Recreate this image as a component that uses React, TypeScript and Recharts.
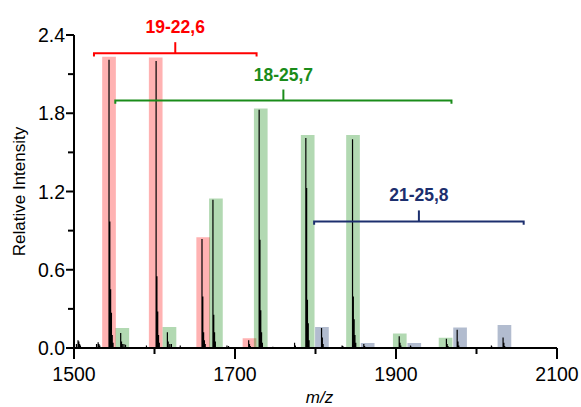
import React from 'react';
import { ComposedChart, Line, Area, XAxis, YAxis, LabelList, Label } from 'recharts';

// ---- spectrum (stick peaks) ----
const specMz = [
  1503, 1505, 1506, 1507, 1508,
  1528, 1530, 1531, 1532,
  1543.5, 1544.5, 1545.5, 1546.5, 1547.5, 1548.5,
  1558, 1559, 1560, 1562, 1564,
  1590,
  1602, 1603, 1604, 1605, 1606,
  1616, 1617, 1619, 1621,
  1632,
  1659, 1660, 1661, 1662, 1663,
  1672.6, 1673.6, 1674.6, 1675.6,
  1690, 1692,
  1717, 1718, 1719,
  1730, 1731, 1732, 1733, 1734,
  1747,
  1774, 1775,
  1788, 1789, 1790, 1791, 1792,
  1807.5, 1808.5, 1809.5,
  1833, 1834,
  1846, 1847, 1848, 1849, 1850,
  1860, 1861,
  1904, 1905, 1906,
  1918, 1919,
  1962.6, 1963.6, 1964.6,
  1976, 1977, 1978,
  2018.5, 2019.5,
  2033, 2034, 2035,
];
const specInt = [
  0.03, 0.06, 0.05, 0.03, 0.02,
  0.03, 0.045, 0.03, 0.02,
  2.21, 0.97, 0.45, 0.27, 0.1, 0.04,
  0.115, 0.05, 0.03, 0.03, 0.025,
  0.02,
  2.2, 0.55, 0.28, 0.1, 0.04,
  0.12, 0.05, 0.03, 0.03,
  0.02,
  0.835, 0.395, 0.12, 0.06, 0.03,
  1.136, 0.255, 0.12, 0.05,
  0.02, 0.015,
  0.06, 0.03, 0.015,
  1.826, 0.83, 0.29, 0.12, 0.04,
  0.01,
  0.04, 0.02,
  1.61, 1.226, 0.37, 0.19, 0.06,
  0.153, 0.08, 0.03,
  0.02, 0.015,
  1.6, 0.395, 0.22, 0.1, 0.04,
  0.03, 0.015,
  0.09, 0.04, 0.02,
  0.02, 0.01,
  0.07, 0.03, 0.015,
  0.14, 0.05, 0.02,
  0.02, 0.01,
  0.08, 0.04, 0.015,
];

// ---- highlighted series (shaded bars) ----
const redMz = [1543.5, 1601.5, 1660.5, 1718];
const redInt = [2.234, 2.227, 0.85, 0.074];
const greenMz = [1560, 1618.6, 1676.3, 1732, 1790.3, 1846.6, 1904.7, 1961.6];
const greenInt = [0.153, 0.161, 1.147, 1.836, 1.634, 1.634, 0.112, 0.079];
const blueMz = [1808, 1864.8, 1922.7, 1979.6, 2034.7];
const blueInt = [0.161, 0.038, 0.038, 0.158, 0.176];

// ---- brackets ----
const bracketLabels = ['19-22,6', '18-25,7', '21-25,8'];
const bracketStart = [1524.8, 1551.3, 1798.3];
const bracketEnd = [1726.8, 1968.9, 2058.6];
const bracketLevel = [2.26, 1.897, 0.97];

// ---- ticks ----
const xTicks = [1500, 1600, 1700, 1800, 1900, 2000, 2100];
const xTickLabels = [1500, 1700, 1900, 2100];
const yTicks = [0, 0.3, 0.6, 0.9, 1.2, 1.5, 1.8, 2.1, 2.4];
const yTickLabels = [0, 0.6, 1.2, 1.8, 2.4];

// ---- styles ----
const FONT = '"Liberation Sans", Arial, sans-serif';
const BAR_HALF = 8.5; // half bar width in m/z units
const HOOK = 0.025;
const TICK_H = 0.085;
const seriesFill = ['#ff0000', '#008000', '#002060'];
const bracketColor = ['#ff0000', '#1a8c1a', '#1c2f6e'];

const spectrumRows = specMz.flatMap((m, i) => [
  { x: m, y: 0 },
  { x: m, y: specInt[i] },
  { x: m, y: 0 },
]);

const rectRows = (mz: number[], h: number[]) =>
  mz.flatMap((m, i) => [
    { x: m - BAR_HALF, y: 0 },
    { x: m - BAR_HALF, y: h[i] },
    { x: m + BAR_HALF, y: h[i] },
    { x: m + BAR_HALF, y: 0 },
  ]);

const seriesRects = [rectRows(redMz, redInt), rectRows(greenMz, greenInt), rectRows(blueMz, blueInt)];

const bracketRows = bracketLabels.map((_, i) => [
  { x: bracketStart[i], y: bracketLevel[i] - HOOK },
  { x: bracketStart[i], y: bracketLevel[i] },
  { x: bracketEnd[i], y: bracketLevel[i] },
  { x: bracketEnd[i], y: bracketLevel[i] - HOOK },
]);
const bracketTickRows = bracketLabels.map((lab, i) => {
  const c = (bracketStart[i] + bracketEnd[i]) / 2;
  return [
    { x: c, y: bracketLevel[i] },
    { x: c, y: bracketLevel[i] + TICK_H, label: lab },
  ];
});

const XTick = (props: any) => {
  const { x, y, payload } = props;
  const major = xTickLabels.includes(payload.value);
  return (
    <g>
      <line x1={x} x2={x} y1={y} y2={y + (major ? 11 : 6)} stroke="#000" strokeWidth={2} />
      {major && (
        <text x={x} y={y + 33} textAnchor="middle" fontSize={19.5} fontFamily={FONT} fill="#000">
          {payload.value}
        </text>
      )}
    </g>
  );
};

const YTick = (props: any) => {
  const { x, y, payload } = props;
  const major = yTickLabels.some((v) => Math.abs(v - payload.value) < 1e-6);
  return (
    <g>
      <line x1={x} x2={x - (major ? 8 : 6)} y1={y} y2={y} stroke="#000" strokeWidth={2} />
      {major && (
        <text x={x - 9} y={y + 7} textAnchor="end" fontSize={19.5} fontFamily={FONT} fill="#000">
          {Number(payload.value).toFixed(1)}
        </text>
      )}
    </g>
  );
};

export default function App() {
  return (
    <div style={{ position: 'absolute', left: 0, top: 0, background: '#fff' }}>
      <ComposedChart width={581} height={407} margin={{ top: 35, right: 24, bottom: 0, left: 0 }}>
        <XAxis
          dataKey="x"
          type="number"
          domain={[1500, 2100]}
          ticks={xTicks}
          interval={0}
          allowDataOverflow
          height={59}
          tickSize={0}
          tickMargin={0}
          tickLine={false}
          tick={<XTick />}
          axisLine={{ stroke: '#000', strokeWidth: 2 }}
        >
          <Label value="m/z" position="insideBottom" offset={4} dx={4} fontStyle="italic" fontSize={17} fontFamily={FONT} fill="#000" />
        </XAxis>
        <YAxis
          type="number"
          domain={[0, 2.4]}
          ticks={yTicks}
          interval={0}
          allowDataOverflow
          width={74}
          tickSize={0}
          tickMargin={0}
          tickLine={false}
          tick={<YTick />}
          axisLine={{ stroke: '#000', strokeWidth: 2 }}
        >
          <Label
            value="Relative Intensity"
            angle={-90}
            position="insideLeft"
            offset={19}
            style={{ textAnchor: 'middle' }}
            fontSize={17}
            fontFamily={FONT}
            fill="#000"
          />
        </YAxis>

        <Line
          data={spectrumRows}
          dataKey="y"
          type="linear"
          stroke="#000"
          strokeWidth={1.2}
          dot={false}
          activeDot={false}
          isAnimationActive={false}
        />

        {seriesRects.map((rows, i) => (
          <Area
            key={'a' + i}
            data={rows}
            dataKey="y"
            type="linear"
            stroke="none"
            fill={seriesFill[i]}
            fillOpacity={0.3}
            dot={false}
            activeDot={false}
            isAnimationActive={false}
          />
        ))}

        {bracketRows.map((rows, i) => (
          <Line
            key={'b' + i}
            data={rows}
            dataKey="y"
            type="linear"
            stroke={bracketColor[i]}
            strokeWidth={2}
            dot={false}
            activeDot={false}
            isAnimationActive={false}
          />
        ))}
        {bracketTickRows.map((rows, i) => (
          <Line
            key={'t' + i}
            data={rows}
            dataKey="y"
            type="linear"
            stroke={bracketColor[i]}
            strokeWidth={2}
            dot={false}
            activeDot={false}
            isAnimationActive={false}
          >
            <LabelList
              dataKey="label"
              position="top"
              offset={9}
              fill={bracketColor[i]}
              fontSize={17.5}
              fontWeight="bold"
              fontFamily={FONT}
            />
          </Line>
        ))}
      </ComposedChart>
    </div>
  );
}
